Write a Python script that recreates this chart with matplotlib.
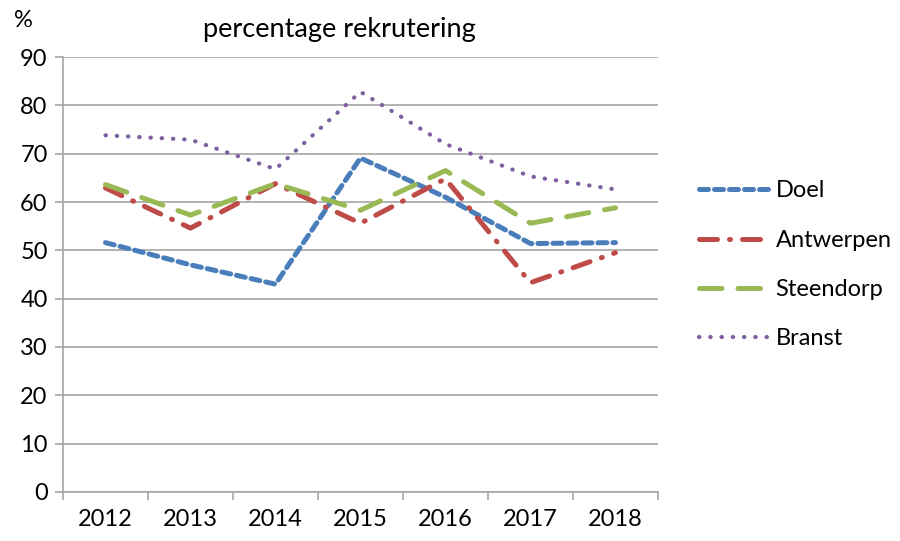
import numpy as np
import matplotlib
matplotlib.use('Agg')
import matplotlib.pyplot as plt

plt.rcParams['font.family'] = ['Lato', 'DejaVu Sans']

years = ['2012', '2013', '2014', '2015', '2016', '2017', '2018']
doel = [51.6, 47.0, 43.0, 69.1, 61.0, 51.4, 51.6]
antwerpen = [62.9, 54.6, 63.8, 55.6, 64.8, 43.3, 49.5]
steendorp = [63.6, 57.3, 63.8, 58.3, 66.5, 55.6, 58.8]
branst = [73.8, 72.9, 66.8, 82.8, 72.0, 65.3, 62.6]

grid_col = '#a6a6a6'
fs = 17

fig = plt.figure(figsize=(9, 5.41), dpi=100)
ax = fig.add_axes([0.07, 0.0906, 0.661, 0.804])

x = np.arange(len(years))
lw = 3.6
ax.plot(x, doel, color='#4A7EBB', lw=lw, linestyle=(0, (1.8, 1.2)), dash_capstyle='round', label='Doel')
ax.plot(x, antwerpen, color='#BE4B48', lw=lw, linestyle=(0, (3.6, 2.4, 0.2, 2.4)), dash_capstyle='round', label='Antwerpen')
ax.plot(x, steendorp, color='#98B954', lw=lw, linestyle=(0, (4.5, 3.2)), dash_capstyle='round', label='Steendorp')
ax.plot(x, branst, color='#7D60A0', lw=3.0, linestyle=(0, (0.1, 2.6)), dash_capstyle='round', label='Branst')

ax.set_xlim(-0.5, len(years) - 0.5)
ax.set_ylim(0, 90)
ax.set_yticks(np.arange(0, 91, 10))
ax.set_xticks(x, labels=years)
ax.set_xticks(np.arange(-0.5, len(years), 1), minor=True)
ax.tick_params(axis='x', which='major', length=0, pad=12, labelsize=fs)
ax.tick_params(axis='x', which='minor', length=6, color=grid_col, width=1.2)
ax.tick_params(axis='y', length=6, color=grid_col, width=1.2, labelsize=fs, pad=5)
ax.yaxis.grid(True, color=grid_col, lw=1.2)
ax.set_axisbelow(True)
for s in ['top', 'right']:
    ax.spines[s].set_visible(False)
for s in ['left', 'bottom']:
    ax.spines[s].set_color(grid_col)
    ax.spines[s].set_linewidth(1.2)

fig.text(0.377, 0.946, 'percentage rekrutering', ha='center', va='center', fontsize=19.5)
fig.text(0.026, 0.963, '%', ha='center', va='center', fontsize=fs)

ax.legend(loc='center left', bbox_to_anchor=(1.069, 0.522), frameon=False, fontsize=17,
          borderpad=0, borderaxespad=0, handlelength=3.0, labelspacing=1.2,
          handletextpad=0.25)

fig.savefig('out.png', dpi=100)
